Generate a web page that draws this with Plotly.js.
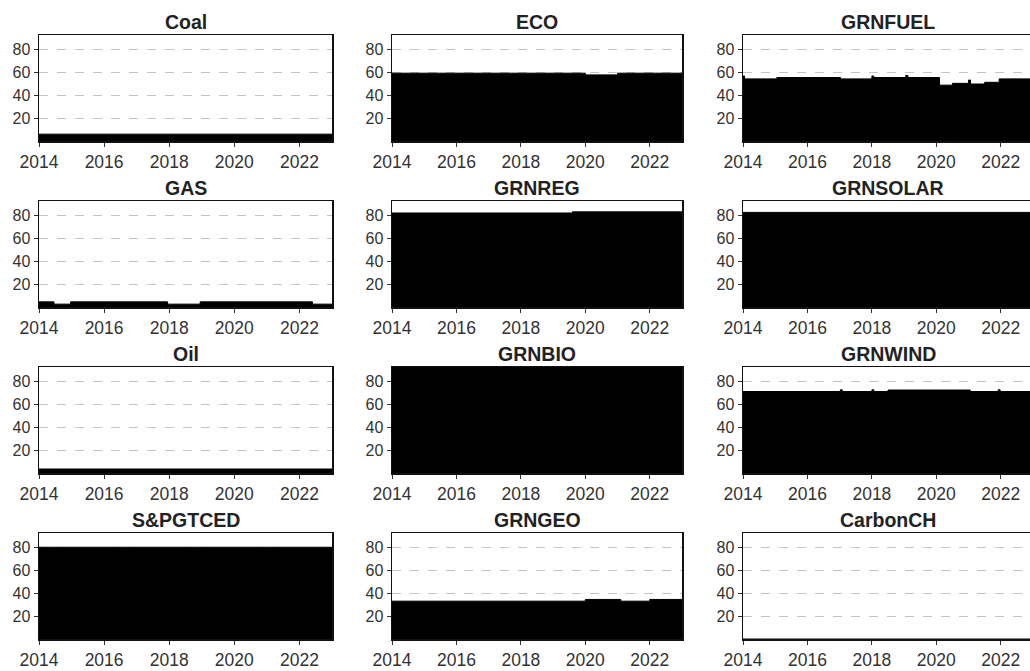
<!DOCTYPE html>
<html>
<head>
<meta charset="utf-8">
<script src="https://cdn.plot.ly/plotly-3.0.1.min.js"></script>
<style>
html, body { margin: 0; padding: 0; overflow: hidden; background: #fff; }
#chart { width: 1036px; height: 671px; }
</style>
</head>
<body>
<div id="chart"></div>
<script>
// Panel names (row-major, 4 rows x 3 columns)
const panelNames = ["Coal", "ECO", "GRNFUEL", "GAS", "GRNREG", "GRNSOLAR", "Oil", "GRNBIO", "GRNWIND", "S&PGTCED", "GRNGEO", "CarbonCH"];

// Step series: x = start of each level (last point closes at 2023), y = level
const coalX = [2014, 2023];
const coalY = [6, 6];

const ecoX = [2014, 2020.0, 2021.0, 2023];
const ecoY = [59.5, 58, 59.5, 59.5];

const grnfuelX = [2014, 2014.05, 2015.05, 2017.03, 2018.0, 2018.06, 2019.05, 2019.12, 2020.1, 2020.5, 2021.0, 2021.06, 2021.5, 2021.95, 2023];
const grnfuelY = [57, 54.5, 55.7, 54.5, 57, 55.7, 57.5, 55.7, 49, 50.6, 53.5, 50, 51.5, 54.5, 54.5];

const gasX = [2014, 2014.46, 2014.97, 2017.95, 2018.95, 2022.4, 2023];
const gasY = [4.5, 2.5, 4.5, 2.5, 4.5, 2.5, 2.5];

const grnregX = [2014, 2019.6, 2023];
const grnregY = [82.5, 83.5, 83.5];

const grnsolarX = [2014, 2023];
const grnsolarY = [83, 83];

const oilX = [2014, 2023];
const oilY = [3.5, 3.5];

const grnbioX = [2014, 2023];
const grnbioY = [93, 93];

const grnwindX = [2014, 2017.02, 2017.08, 2018.0, 2018.06, 2018.5, 2021.05, 2021.92, 2021.98, 2023];
const grnwindY = [71.5, 73, 71.5, 73, 71.5, 72.8, 71.5, 73, 71.5, 71.5];

const spgtcedX = [2014, 2023];
const spgtcedY = [80.5, 80.5];

const grngeoX = [2014, 2020.0, 2021.1, 2022.0, 2023];
const grngeoY = [33.2, 34.7, 33.2, 34.7, 34.7];

const carbonX = [2014, 2023];
const carbonY = [0, 0];

const seriesX = [coalX, ecoX, grnfuelX, gasX, grnregX, grnsolarX, oilX, grnbioX, grnwindX, spgtcedX, grngeoX, carbonX];
const seriesY = [coalY, ecoY, grnfuelY, gasY, grnregY, grnsolarY, oilY, grnbioY, grnwindY, spgtcedY, grngeoY, carbonY];

const xTicks = [2014, 2016, 2018, 2020, 2022];
const yTicks = [20, 40, 60, 80];

// Layout geometry (pixels)
const W = 1036, H = 671;
const colPx = [[39, 332], [392, 682], [743, 1033]];
const rowPx = [[35, 141], [201, 307], [367, 473], [533, 639]];

const traces = [];
const layout = {
  width: W, height: H,
  margin: {l: 0, r: 0, t: 0, b: 0},
  paper_bgcolor: "#ffffff",
  plot_bgcolor: "#ffffff",
  showlegend: false,
  annotations: []
};

const tickFont = {family: "Arial, 'Liberation Sans', sans-serif", size: 16, color: "#333333"};

for (let i = 0; i < panelNames.length; i++) {
  const r = Math.floor(i / 3), c = i % 3;
  const n = i + 1;
  const xa = n === 1 ? "xaxis" : "xaxis" + n;
  const ya = n === 1 ? "yaxis" : "yaxis" + n;
  const xDom = [colPx[c][0] / W, colPx[c][1] / W];
  const yDom = [1 - rowPx[r][1] / H, 1 - rowPx[r][0] / H];

  traces.push({
    x: seriesX[i], y: seriesY[i],
    xaxis: "x" + (n === 1 ? "" : n), yaxis: "y" + (n === 1 ? "" : n),
    type: "scatter", mode: "lines",
    line: {shape: "hv", color: "#000000", width: 1},
    fill: "tozeroy", fillcolor: "#000000",
    hoverinfo: "skip"
  });

  layout[xa] = {
    domain: xDom, range: [2014, 2023], anchor: "y" + (n === 1 ? "" : n),
    showline: true, mirror: true, linecolor: "#111111", linewidth: 1.5,
    ticks: "outside", ticklen: 4, tickcolor: "#333333",
    tickvals: xTicks, ticktext: xTicks.map(String),
    tickfont: {family: tickFont.family, size: 17.5, color: "#333333"},
    showgrid: false, zeroline: false, fixedrange: true
  };
  layout[ya] = {
    domain: yDom, range: [0, 93], anchor: "x" + (n === 1 ? "" : n),
    showline: true, mirror: true, linecolor: "#111111", linewidth: 1.5,
    ticks: "outside", ticklen: 4, tickcolor: "#333333",
    tickvals: yTicks, ticktext: yTicks.map(String),
    tickfont: tickFont,
    showgrid: true, gridcolor: "#c4c4c4", gridwidth: 1, griddash: "dash",
    zeroline: false, fixedrange: true
  };

  layout.annotations.push({
    text: panelNames[i],
    xref: "paper", yref: "paper",
    x: (xDom[0] + xDom[1]) / 2, y: yDom[1],
    xanchor: "center", yanchor: "bottom", yshift: 0,
    showarrow: false,
    font: {family: "Arial, 'Liberation Sans', sans-serif", size: 19.5, color: "#222222", weight: "bold"}
  });
}

Plotly.newPlot("chart", traces, layout, {staticPlot: true, displayModeBar: false});
</script>
</body>
</html>
